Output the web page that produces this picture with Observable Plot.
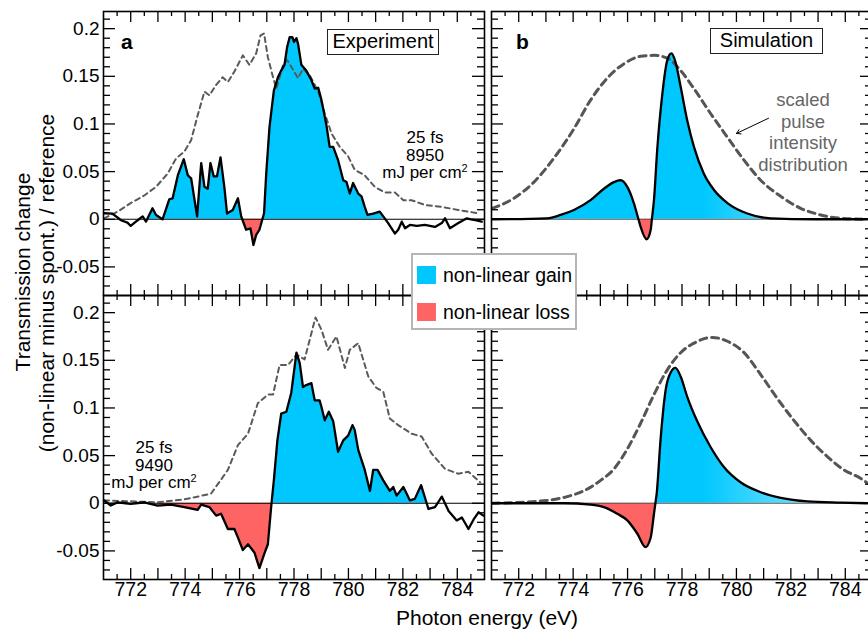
<!DOCTYPE html>
<html><head><meta charset="utf-8">
<script src="https://cdn.jsdelivr.net/npm/d3@7"></script>
<script src="https://cdn.jsdelivr.net/npm/@observablehq/plot@0.6"></script>
<style>
body{margin:0;background:#fff;overflow:hidden;}
#wrap{position:relative;width:868px;height:629px;overflow:hidden;font-family:"Liberation Sans",Arial,sans-serif;color:#000;}
#wrap svg{position:absolute;}
.abs{position:absolute;white-space:nowrap;}
.box{position:absolute;border:1.5px solid #222;background:#fff;font-size:20px;text-align:center;box-sizing:border-box;}
.ann{position:absolute;text-align:center;font-size:17px;line-height:17.5px;width:120px;}
.rot{position:absolute;white-space:nowrap;transform:translate(-50%,-50%) rotate(-90deg);font-size:21px;line-height:1;}
#legend{position:absolute;left:411px;top:253px;width:166px;height:77px;border:2px solid #b5b5b5;background:#fff;box-sizing:border-box;font-size:19.5px;}
.sw{position:absolute;width:19px;height:18px;}
</style></head><body><div id="wrap"></div>
<script>
// ---------- data ----------
const energyDomain = [771, 785];
const signalDomain = [-0.08, 0.218];
const yTickLabels = [-0.05, 0, 0.05, 0.1, 0.15, 0.2];
const xTickLabels = [772, 774, 776, 778, 780, 782, 784];

// Experiment, 8950 mJ/cm2 (panel a, top)
const expA_energy = [771.02,771.33,771.64,771.88,772.0,772.19,772.44,772.56,772.80,772.93,773.17,773.42,773.54,773.73,773.95,774.10,774.22,774.44,774.59,774.71,774.83,774.93,775.05,775.17,775.30,775.44,775.54,775.75,775.94,776.06,776.24,776.40,776.51,776.61,776.73,776.90,776.98,777.10,777.26,777.41,777.53,777.65,777.75,777.84,777.94,778.00,778.09,778.15,778.27,778.45,778.64,778.76,778.89,779.01,779.19,779.31,779.44,779.62,779.81,779.93,780.05,780.17,780.36,780.48,780.60,780.70,780.91,781.15,781.28,781.46,781.71,781.83,781.96,782.08,782.26,782.51,782.81,783.18,783.43,783.55,783.73,784.04,784.35,784.66,784.90];
const expA_signal = [0.0063,0.006,-0.001,-0.0035,-0.007,-0.0025,0.003,-0.0025,0.0115,0.0045,0,0.021,0.022,0.046,0.063,0.046,0.043,0.003,0.059,0.034,0.032,0.059,0.045,0.045,0.065,0.034,0.006,0.0097,0.022,0.003,-0.011,-0.0095,-0.027,-0.0165,-0.011,0.0063,0.048,0.097,0.135,0.149,0.156,0.162,0.181,0.191,0.191,0.186,0.190,0.184,0.162,0.156,0.146,0.137,0.138,0.125,0.099,0.076,0.076,0.062,0.041,0.039,0.027,0.038,0.027,0.024,0.013,0.0045,0.006,0.008,0.003,-0.004,-0.015,-0.011,-0.0025,-0.0095,-0.006,-0.007,-0.006,-0.008,-0.004,0.001,-0.0095,-0.004,0.001,-0.001,-0.0025];
const expA_pulseEnergy = [771.02,771.52,772.0,772.5,772.93,773.36,773.67,773.97,774.22,774.46,774.71,774.89,775.14,775.38,775.57,775.81,776.12,776.36,776.61,776.77,776.90,777.04,777.23,777.35,777.60,777.75,777.90,778.15,778.33,778.58,778.89,779.13,779.38,779.68,779.99,780.23,780.60,780.97,781.34,781.71,782.02,782.32,782.81,783.43,784.04,784.84];
const expA_pulse = [0.001,0.008,0.017,0.025,0.034,0.048,0.064,0.071,0.083,0.109,0.134,0.130,0.141,0.149,0.144,0.155,0.172,0.162,0.174,0.193,0.195,0.170,0.149,0.137,0.162,0.167,0.160,0.148,0.158,0.151,0.134,0.111,0.090,0.076,0.066,0.052,0.046,0.034,0.028,0.028,0.020,0.020,0.015,0.013,0.0097,0.006];
const expA_fillRange = [772.6, 781.3];

// Experiment, 9490 mJ/cm2 (panel a, bottom)
const expB_energy = [771.02,771.27,771.52,772.0,772.5,772.99,773.48,773.97,774.46,774.59,774.89,775.14,775.32,775.57,775.81,775.94,776.12,776.31,776.55,776.73,776.92,777.04,777.16,777.26,777.39,777.53,777.72,777.90,778.09,778.21,778.33,778.45,778.64,778.76,778.94,779.01,779.13,779.28,779.44,779.62,779.81,779.99,780.15,780.23,780.36,780.60,780.79,780.91,781.07,781.28,781.52,781.65,781.77,782.02,782.26,782.44,782.67,782.94,783.18,783.43,783.68,783.98,784.17,784.41,784.60,784.78,784.96];
const expB_signal = [0.003,-0.0024,0.001,-0.0006,0.001,-0.0024,-0.0014,-0.004,-0.007,-0.0014,-0.004,-0.013,-0.011,-0.027,-0.027,-0.036,-0.049,-0.043,-0.052,-0.068,-0.052,-0.043,-0.004,0.024,0.066,0.094,0.096,0.116,0.158,0.147,0.122,0.124,0.126,0.108,0.108,0.101,0.087,0.096,0.086,0.054,0.066,0.071,0.082,0.077,0.056,0.035,0.013,0.035,0.035,0.024,0.013,0.017,0.008,0.017,0.003,0.0046,0.019,-0.006,-0.004,0.007,-0.008,-0.018,-0.015,-0.027,-0.017,-0.0095,-0.013];
const expB_pulseEnergy = [771.02,772.99,773.97,774.95,775.20,775.57,775.94,776.31,776.67,777.04,777.23,777.47,777.78,778.09,778.39,778.79,779.01,779.25,779.56,779.87,780.05,780.36,780.73,781.03,781.28,781.52,781.83,782.32,782.69,783.06,783.55,784.04,784.41,784.84];
const expB_pulse = [0.003,0.001,0.004,0.010,0.020,0.035,0.061,0.073,0.105,0.114,0.114,0.145,0.145,0.156,0.151,0.195,0.182,0.161,0.175,0.142,0.161,0.168,0.133,0.121,0.117,0.089,0.082,0.073,0.070,0.052,0.036,0.031,0.033,0.022];
const expB_fillRange = [772.9, 782.9];

// Simulation (panel b, top)
const simA_energy = [771.03,773.05,773.54,774.03,774.64,775.13,775.50,775.74,775.99,776.23,776.48,776.70,776.85,776.97,777.09,777.28,777.46,777.61,777.76,777.95,778.19,778.44,778.80,779.17,779.67,780.40,781.26,782.85,784.81];
const simA_signal = [0,0.001,0.0045,0.0097,0.020,0.032,0.039,0.041,0.034,0.017,-0.008,-0.021,-0.011,0.020,0.073,0.132,0.167,0.174,0.165,0.139,0.104,0.076,0.048,0.031,0.017,0.006,0.001,0,0];
const simA_pulseEnergy = [771.03,771.82,772.56,773.29,774.03,774.64,775.25,775.86,776.48,776.97,777.46,777.95,778.44,779.05,779.67,780.28,780.89,781.63,782.36,783.10,783.83,784.81];
const simA_pulse = [0.0115,0.022,0.039,0.064,0.095,0.125,0.148,0.163,0.171,0.172,0.169,0.156,0.137,0.111,0.086,0.062,0.041,0.024,0.0115,0.0045,0.001,0];

// Simulation (panel b, bottom)
const simB_energy = [771.03,773.66,774.64,775.13,775.62,775.99,776.36,776.66,776.85,776.97,777.07,777.21,777.40,777.58,777.76,777.95,778.19,778.56,779.05,779.54,780.15,780.89,781.63,782.61,783.83,784.81];
const simB_signal = [0,0,-0.0014,-0.004,-0.011,-0.018,-0.032,-0.046,-0.036,-0.011,0.010,0.066,0.119,0.137,0.142,0.133,0.112,0.086,0.059,0.038,0.022,0.0116,0.0057,0.002,0.0007,0];
const simB_pulseEnergy = [771.03,773.05,773.78,774.39,775.01,775.50,775.99,776.48,776.97,777.46,777.95,778.44,779.11,779.67,780.28,780.89,781.50,782.11,782.73,783.34,783.95,784.57,784.87];
const simB_pulse = [0,0.003,0.007,0.013,0.024,0.036,0.057,0.084,0.114,0.140,0.158,0.168,0.174,0.170,0.158,0.135,0.110,0.087,0.066,0.049,0.035,0.026,0.020];

// arrow annotation (data coords) for "scaled pulse intensity distribution"
const arrowFrom = {x: 781.18, y: 0.106};
const arrowTo = {x: 780.0, y: 0.090};

// ---------- drawing ----------
const GAIN = "#00c8ff", LOSS = "#ff6464";
const FONT = "Liberation Sans, Arial, sans-serif";
const innerW = 381, innerH = 284;
const xMajorTicks = d3.range(772, 785, 1);
const xMinorTicks = d3.range(771.5, 785, 1);
const yMajorTicks = yTickLabels;
const yMinorTicks = d3.range(-7, 22).filter(i => i % 5 !== 0).map(i => i / 100);

function withCrossings(xs, ys) {
  const out = [];
  for (let i = 0; i < xs.length; i++) {
    if (i > 0 && ys[i-1] * ys[i] < 0) {
      const t = ys[i-1] / (ys[i-1] - ys[i]);
      out.push({x: xs[i-1] + t * (xs[i] - xs[i-1]), y: 0});
    }
    out.push({x: xs[i], y: ys[i]});
  }
  return out;
}

function panel({energy, signal, pulseEnergy, pulse, fillRange, curve, yLabels, xLabels, left, top, ml, mr, mt, mb, gradId, zeroColor, pulseWidth, pulseDash, pulseColor, extra = []}) {
  const pts = withCrossings(energy, signal);
  const fillPts = fillRange ? pts.filter(d => d.x >= fillRange[0] && d.x <= fillRange[1]) : pts;
  const pulsePts = pulseEnergy.map((x, i) => ({x, y: pulse[i]}));
  const width = ml + innerW + mr, height = mt + innerH + mb;
  const marks = [
    Plot.areaY(fillPts, {x: "x", y1: 0, y2: d => Math.max(0, d.y), fill: gradId ? `url(#${gradId})` : GAIN, curve}),
    Plot.areaY(fillPts, {x: "x", y1: 0, y2: d => Math.min(0, d.y), fill: LOSS, curve}),
    Plot.ruleY([0], {stroke: zeroColor, strokeWidth: 1.2}),
    Plot.line(pulsePts, {x: "x", y: "y", stroke: pulseColor, strokeWidth: pulseWidth, strokeDasharray: pulseDash, curve}),
    Plot.line(pts, {x: "x", y: "y", stroke: "#000", strokeWidth: 2.3, curve}),
    // inward ticks on all four sides
    Plot.tickY(yMajorTicks, {y: d => d, stroke: "#000", strokeWidth: 1.3, insetRight: innerW - 12}),
    Plot.tickY(yMinorTicks, {y: d => d, stroke: "#000", strokeWidth: 1.3, insetRight: innerW - 7}),
    Plot.tickY(yMajorTicks, {y: d => d, stroke: "#000", strokeWidth: 1.3, insetLeft: innerW - 12}),
    Plot.tickY(yMinorTicks, {y: d => d, stroke: "#000", strokeWidth: 1.3, insetLeft: innerW - 7}),
    Plot.tickX(xMajorTicks, {x: d => d, stroke: "#000", strokeWidth: 1.3, insetTop: innerH - 11}),
    Plot.tickX(xMinorTicks, {x: d => d, stroke: "#000", strokeWidth: 1.3, insetTop: innerH - 5}),
    Plot.tickX(xMajorTicks, {x: d => d, stroke: "#000", strokeWidth: 1.3, insetBottom: innerH - 11}),
    Plot.tickX(xMinorTicks, {x: d => d, stroke: "#000", strokeWidth: 1.3, insetBottom: innerH - 5}),
    Plot.frame({stroke: "#000", strokeWidth: 1.6}),
    ...extra
  ];
  if (yLabels) marks.push(Plot.text(yTickLabels, {y: d => d, text: d => String(d), frameAnchor: "left", textAnchor: "end", dx: -4, fontSize: 19, fill: "#000"}));
  if (xLabels) marks.push(Plot.text(xTickLabels, {x: d => d, text: d => String(d), frameAnchor: "bottom", lineAnchor: "top", dy: 3, fontSize: 19.5, fill: "#000"}));
  const svg = Plot.plot({
    width, height, marginLeft: ml, marginRight: mr, marginTop: mt, marginBottom: mb,
    x: {domain: energyDomain, axis: null},
    y: {domain: signalDomain, axis: null},
    style: {fontFamily: FONT, fontSize: "19px", background: "none", overflow: "visible", maxWidth: "none"},
    marks
  });
  if (gradId) {
    const xs = svg.scale("x");
    const ns = "http://www.w3.org/2000/svg";
    const defs = document.createElementNS(ns, "defs");
    const g = document.createElementNS(ns, "linearGradient");
    g.setAttribute("id", gradId);
    g.setAttribute("gradientUnits", "userSpaceOnUse");
    g.setAttribute("x1", xs.apply(778.8)); g.setAttribute("x2", xs.apply(782.5));
    g.setAttribute("y1", 0); g.setAttribute("y2", 0);
    [["0", "#00c8ff"], ["1", "#6ee0ff"]].forEach(([o, c]) => {
      const s = document.createElementNS(ns, "stop");
      s.setAttribute("offset", o); s.setAttribute("stop-color", c); g.appendChild(s);
    });
    defs.appendChild(g); svg.insertBefore(defs, svg.firstChild);
  }
  svg.style.left = left + "px";
  svg.style.top = top + "px";
  return svg;
}

const wrap = document.getElementById("wrap");
const expCommon = {curve: "linear", zeroColor: "#000", pulseWidth: 2, pulseDash: "5,4", pulseColor: "#5a5a5a"};
const simCommon = {curve: "monotone-x", zeroColor: "#555", pulseWidth: 3, pulseDash: "7,5", pulseColor: "#555"};

wrap.appendChild(panel({...expCommon, energy: expA_energy, signal: expA_signal, pulseEnergy: expA_pulseEnergy, pulse: expA_pulse, fillRange: expA_fillRange, yLabels: true, xLabels: false, left: 0, top: 0, ml: 103, mr: 3, mt: 11, mb: 3}));
wrap.appendChild(panel({...expCommon, energy: expB_energy, signal: expB_signal, pulseEnergy: expB_pulseEnergy, pulse: expB_pulse, fillRange: expB_fillRange, yLabels: true, xLabels: true, left: 0, top: 285, ml: 103, mr: 3, mt: 10, mb: 40}));
wrap.appendChild(panel({...simCommon, energy: simA_energy, signal: simA_signal, pulseEnergy: simA_pulseEnergy, pulse: simA_pulse, fillRange: null, yLabels: false, xLabels: false, left: 487, top: 0, ml: 4, mr: 3, mt: 11, mb: 3, gradId: "gradA",
  extra: [Plot.arrow([0], {x1: () => arrowFrom.x, y1: () => arrowFrom.y, x2: () => arrowTo.x, y2: () => arrowTo.y, stroke: "#000", strokeWidth: 1, headLength: 7})]}));
wrap.appendChild(panel({...simCommon, energy: simB_energy, signal: simB_signal, pulseEnergy: simB_pulseEnergy, pulse: simB_pulse, fillRange: null, yLabels: false, xLabels: true, left: 487, top: 285, ml: 4, mr: 3, mt: 10, mb: 40, gradId: "gradB"}));

// ---------- text overlays ----------
function add(html) { wrap.insertAdjacentHTML("beforeend", html); }
add(`<div class="abs" style="left:121px;top:30px;font-size:21px;font-weight:bold;">a</div>`);
add(`<div class="abs" style="left:516px;top:30px;font-size:21px;font-weight:bold;">b</div>`);
add(`<div class="box" style="left:327px;top:29px;width:112px;height:26px;line-height:23px;">Experiment</div>`);
add(`<div class="box" style="left:710px;top:28px;width:113px;height:26px;line-height:23px;">Simulation</div>`);
add(`<div class="ann" style="left:365px;top:129px;">25 fs<br>8950<br>mJ per cm<sup style="font-size:11px;vertical-align:6px;line-height:0">2</sup></div>`);
add(`<div class="ann" style="left:94px;top:439px;">25 fs<br>9490<br>mJ per cm<sup style="font-size:11px;vertical-align:6px;line-height:0">2</sup></div>`);
add(`<div class="abs" style="left:743px;top:89px;width:120px;text-align:center;font-size:18.5px;line-height:21.5px;color:#666;">scaled<br>pulse<br>intensity<br>distribution</div>`);
add(`<div id="legend"><div class="sw" style="left:4px;top:11px;background:${GAIN}"></div><div class="abs" style="left:30px;top:9px;">non-linear gain</div><div class="sw" style="left:4px;top:48px;background:${LOSS}"></div><div class="abs" style="left:30px;top:46px;">non-linear loss</div></div>`);
add(`<div class="abs" style="left:487px;top:606px;transform:translateX(-50%);font-size:21px;">Photon energy (eV)</div>`);
add(`<div class="rot" style="left:22px;top:272px;">Transmission change</div>`);
add(`<div class="rot" style="left:46px;top:283px;">(non-linear minus spont.) / reference</div>`);
</script></body></html>
